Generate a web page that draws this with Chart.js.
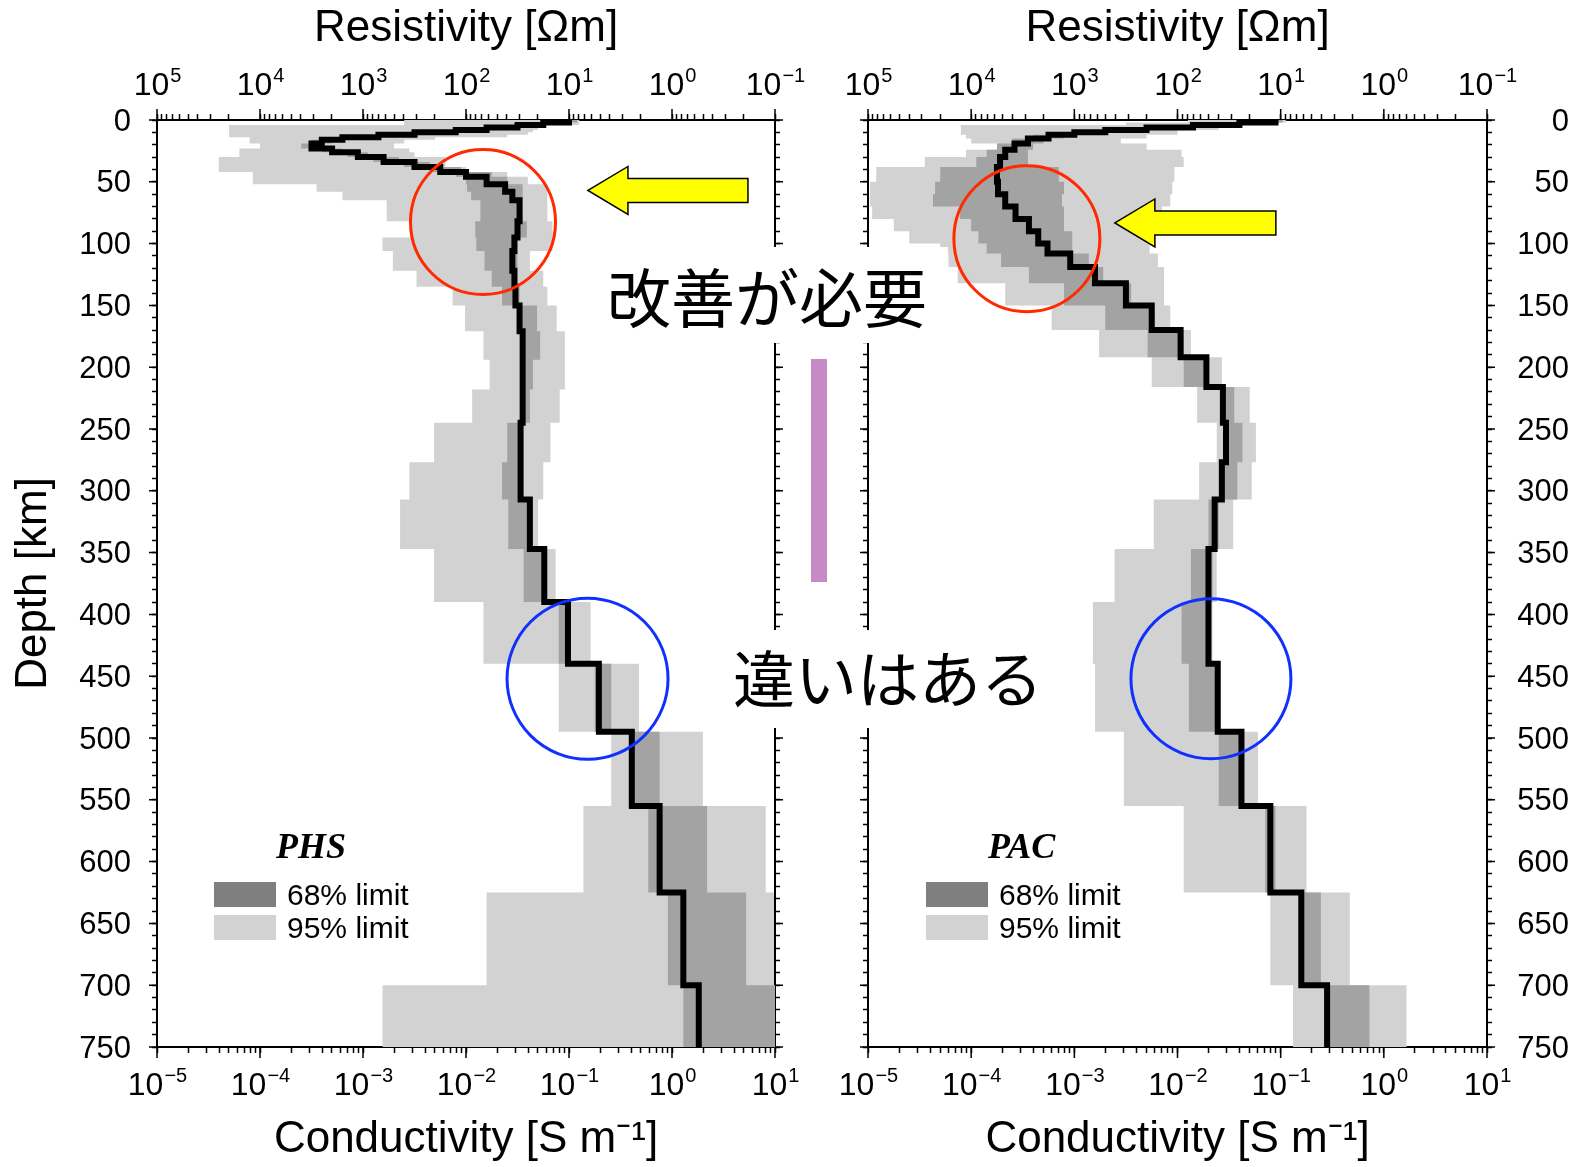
<!DOCTYPE html>
<html lang="ja">
<head>
<meta charset="utf-8">
<title>PHS / PAC conductivity profiles</title>
<script src="https://cdn.jsdelivr.net/npm/chart.js@4.4.1/dist/chart.umd.min.js"></script>
<style>
  html, body { margin: 0; padding: 0; background: #fff; }
  #page { position: relative; width: 1569px; height: 1167px; overflow: hidden; font-family: "Liberation Sans", Arial, sans-serif; color: #000; }
  canvas { position: absolute; left: 0; top: 0; }
  .box { position: absolute; background: #fff; }
  .jp { position: absolute; font-family: "Noto Sans CJK JP", sans-serif; line-height: 1; white-space: nowrap; }
  .key-name { position: absolute; font-family: "Liberation Serif", "Times New Roman", serif; font-weight: bold; font-style: italic; font-size: 36px; line-height: 36px; }
  .key-sw { position: absolute; width: 62px; height: 25px; }
  .key-txt { position: absolute; font-size: 30px; line-height: 30px; white-space: nowrap; }
</style>
</head>
<body>
<div id="page">
  <canvas id="phsChart" width="1569" height="1167"></canvas>
  <canvas id="pacChart" width="1569" height="1167"></canvas>

  <div class="box" style="left:811px;top:359px;width:16px;height:223px;background:#c78ac7"></div>

  <div class="box" style="left:598px;top:247px;width:350px;height:96px"></div>
  <div class="jp" style="left:607px;top:262px;font-size:64px">改善が必要</div>
  <div class="box" style="left:722px;top:630px;width:323px;height:98px"></div>
  <div class="jp" style="left:733px;top:645px;font-size:62px">違いはある</div>

  <div class="key-name" style="left:276px;top:828px">PHS</div>
  <div class="key-sw" style="left:214px;top:882px;background:#7f7f7f"></div>
  <div class="key-sw" style="left:214px;top:915px;background:#d2d2d2"></div>
  <div class="key-txt" style="left:287px;top:880px">68% limit</div>
  <div class="key-txt" style="left:287px;top:913px">95% limit</div>

  <div class="key-name" style="left:988px;top:828px">PAC</div>
  <div class="key-sw" style="left:926px;top:882px;background:#7f7f7f"></div>
  <div class="key-sw" style="left:926px;top:915px;background:#d2d2d2"></div>
  <div class="key-txt" style="left:999px;top:880px">68% limit</div>
  <div class="key-txt" style="left:999px;top:913px">95% limit</div>
</div>

<script>
// layer boundaries in km (top of each layer, last value = bottom of model)
// all profile values are log10 of conductivity [S/m], one per layer

// PHS (left panel)
const phsDepth = [0, 2, 4, 6, 8, 10, 12, 14, 16, 19, 23, 26, 30, 34, 38, 42, 46, 52, 58, 65,
  82, 95, 106, 122, 135, 150, 171, 194, 218, 245, 277, 307, 347, 390, 440, 495, 555, 625, 700, 750];
const phsMedian = [-1.00, -1.25, -1.50, -1.80, -2.10, -2.50, -2.85, -3.20, -3.40, -3.50,
  -3.30, -3.05, -2.80, -2.50, -2.25, -2.00, -1.80, -1.62, -1.55, -1.48,
  -1.50, -1.53, -1.55, -1.53, -1.52, -1.48, -1.45, -1.45, -1.45, -1.47,
  -1.47, -1.38, -1.24, -1.01, -0.71, -0.39, -0.12, 0.11, 0.26];
const phs68Lo = [-1.10, -1.35, -1.60, -1.90, -2.20, -2.60, -2.95, -3.30, -3.50, -3.60,
  -3.40, -3.15, -2.90, -2.60, -2.35, -2.10, -2.00, -1.99, -1.95, -1.86,
  -1.91, -1.90, -1.82, -1.75, -1.65, -1.50, -1.45, -1.47, -1.47, -1.60,
  -1.65, -1.59, -1.44, -1.10, -0.75, -0.42, -0.23, -0.04, 0.11];
const phs68Hi = [-0.92, -1.15, -1.40, -1.70, -2.00, -2.40, -2.75, -3.10, -3.30, -3.40,
  -3.20, -2.95, -2.65, -2.35, -2.05, -1.75, -1.60, -1.45, -1.45, -1.45,
  -1.41, -1.50, -1.50, -1.50, -1.48, -1.31, -1.28, -1.35, -1.38, -1.45,
  -1.47, -1.38, -1.22, -0.99, -0.59, -0.12, 0.34, 0.72, 1.00];
const phs95Lo = [-2.60, -2.60, -4.30, -4.30, -4.30, -4.30, -4.30, -4.10, -4.10, -4.00,
  -4.20, -4.20, -4.40, -4.40, -4.40, -4.07, -4.07, -3.45, -3.20, -2.77,
  -2.54, -2.81, -2.71, -2.48, -2.13, -2.01, -1.83, -1.77, -1.94, -2.31,
  -2.55, -2.64, -2.31, -1.83, -1.10, -0.59, -0.86, -1.80, -2.81];
const phs95Hi = [-0.90, -0.90, -1.30, -1.30, -1.35, -1.40, -1.60, -2.30, -2.60, -2.70,
  -2.55, -2.50, -2.20, -2.20, -2.00, -1.60, -1.40, -1.21, -1.21, -1.21,
  -1.16, -1.16, -1.38, -1.25, -1.21, -1.12, -1.04, -1.04, -1.09, -1.18,
  -1.25, -1.30, -1.13, -0.79, -0.32, 0.30, 0.91, 0.99, 1.00];

// PAC (right panel)
const pacDepth = [0, 2, 4, 6, 8, 10, 12, 15, 19, 24, 30, 38, 50, 60, 70, 80, 90, 100, 108, 119,
  132, 150, 170, 192, 216, 245, 277, 307, 347, 390, 440, 495, 555, 625, 700, 750];
const pacMedian = [-1.05, -1.40, -1.85, -2.30, -2.70, -3.00, -3.25, -3.45, -3.58, -3.67,
  -3.72, -3.75, -3.74, -3.67, -3.57, -3.44, -3.35, -3.26, -3.04, -2.80,
  -2.50, -2.25, -1.97, -1.72, -1.56, -1.53, -1.57, -1.64, -1.70, -1.70,
  -1.61, -1.38, -1.10, -0.80, -0.55];
const pac68Lo = [-1.15, -1.55, -2.00, -2.45, -2.85, -3.15, -3.40, -3.60, -3.75, -3.85,
  -3.95, -4.30, -4.35, -4.37, -4.11, -4.00, -3.93, -3.85, -3.71, -3.44,
  -3.10, -2.70, -2.29, -1.94, -1.58, -1.55, -1.58, -1.70, -1.87, -1.96,
  -1.89, -1.60, -1.15, -0.82, -0.57];
const pac68Hi = [-0.98, -1.30, -1.70, -2.15, -2.50, -2.85, -3.10, -3.30, -3.40, -3.45,
  -3.45, -3.15, -3.10, -3.12, -3.10, -3.10, -3.02, -3.02, -2.86, -2.72,
  -2.45, -2.22, -1.94, -1.70, -1.45, -1.37, -1.42, -1.60, -1.66, -1.70,
  -1.62, -1.40, -1.05, -0.61, -0.14];
const pac95Lo = [-1.90, -2.50, -4.10, -4.10, -4.10, -4.10, -4.05, -4.00, -3.75, -4.05,
  -4.45, -4.92, -4.98, -4.98, -4.96, -4.75, -4.60, -4.30, -4.22, -4.13,
  -3.67, -3.22, -2.76, -2.25, -1.81, -1.62, -1.79, -2.23, -2.61, -2.82,
  -2.80, -2.52, -1.94, -1.10, -0.88];
const pac95Hi = [-0.95, -1.10, -1.50, -1.60, -2.00, -2.00, -2.30, -2.55, -2.30, -1.96,
  -1.94, -2.03, -2.05, -2.07, -2.15, -2.17, -2.27, -2.27, -2.19, -2.13,
  -2.13, -2.07, -1.87, -1.57, -1.30, -1.24, -1.28, -1.46, -1.62, -1.66,
  -1.60, -1.22, -0.75, -0.33, 0.22];

// axis ticks
const condExponents = [-5, -4, -3, -2, -1, 0, 1];
const resExponents = [5, 4, 3, 2, 1, 0, -1];
const depthTicks = [];
for (let d = 0; d <= 750; d += 10) depthTicks.push(d);

const LIGHT = '#d2d2d2';
const DARK = '#a3a3a3';
const FONT = '"Liberation Sans", Arial, sans-serif';

Chart.defaults.font.family = FONT;
Chart.defaults.color = '#000';

// vertical step profile: each layer is a vertical segment from its top to its bottom
function stepEdge(depth, vals) {
  const pts = [];
  vals.forEach(function (v, i) {
    pts.push({ x: Math.pow(10, v), y: depth[i] });
    pts.push({ x: Math.pow(10, v), y: depth[i + 1] });
  });
  return pts;
}

function band(depth, lo, hi) {
  return stepEdge(depth, lo).concat(stepEdge(depth, hi).reverse());
}

function logTickValues(min, max) {
  const out = [];
  const e0 = Math.round(Math.log10(min)), e1 = Math.round(Math.log10(max));
  for (let e = e0; e < e1; e++) {
    for (let m = 1; m < 10; m++) out.push(m * Math.pow(10, e));
  }
  out.push(max);
  return out;
}

function logAxis(position, reverse, min, max, title, pad) {
  return {
    type: 'logarithmic', position: position, reverse: reverse, min: min, max: max,
    afterBuildTicks: function (s) { s.ticks = logTickValues(min, max).map(v => ({ value: v })); },
    afterFit: function (s) { s.height = 120; },
    ticks: { display: false },
    grid: { drawOnChartArea: false, tickLength: 6, tickColor: '#000', tickWidth: 1.5 },
    border: { color: '#000', width: 2 },
    title: { display: true, text: title, font: { size: 44 }, color: '#000', padding: pad }
  };
}

function depthAxis(position, showLabels, width) {
  return {
    type: 'linear', position: position, reverse: true, min: 0, max: 750,
    afterBuildTicks: function (s) { s.ticks = depthTicks.map(v => ({ value: v })); },
    afterFit: function (s) { s.width = width; },
    ticks: {
      display: showLabels, autoSkip: false, color: '#000', font: { size: 31 },
      padding: position === 'left' ? 21 : 16,
      labelOffset: 2,
      crossAlign: position === 'left' ? 'near' : 'far',
      callback: function (v) { return v % 50 === 0 ? String(v) : ''; }
    },
    grid: { drawOnChartArea: false, tickLength: 5, tickColor: '#000', tickWidth: 1.5 },
    border: { color: '#000', width: 2 }
  };
}

function drawPow(ctx, x, base, exp) {
  const sup = exp < 0 ? '\u2212' + Math.abs(exp) : String(exp);
  ctx.font = '32px ' + FONT;
  const w1 = ctx.measureText('10').width;
  ctx.font = '20px ' + FONT;
  const w2 = ctx.measureText(sup).width;
  const x0 = x - (w1 + w2) / 2;
  ctx.font = '32px ' + FONT;
  ctx.fillText('10', x0, base);
  ctx.font = '20px ' + FONT;
  ctx.fillText(sup, x0 + w1 + 1, base - 13);
}

// long ticks, power-of-ten labels, circles and arrows
function overlayPlugin(marks) {
  return {
    id: 'overlay',
    afterDraw: function (chart) {
      const ctx = chart.ctx, a = chart.chartArea;
      const sx = chart.scales.x, st = chart.scales.x2, sy = chart.scales.y;
      ctx.save();
      ctx.strokeStyle = '#000';
      ctx.lineWidth = 1.5;
      ctx.beginPath();
      condExponents.forEach(function (e) {
        const px = sx.getPixelForValue(Math.pow(10, e));
        ctx.moveTo(px, a.bottom); ctx.lineTo(px, a.bottom + 11);
      });
      resExponents.forEach(function (e) {
        const px = st.getPixelForValue(Math.pow(10, e));
        ctx.moveTo(px, a.top); ctx.lineTo(px, a.top - 11);
      });
      depthTicks.forEach(function (d) {
        if (d % 50 !== 0) return;
        const py = sy.getPixelForValue(d);
        ctx.moveTo(a.left, py); ctx.lineTo(a.left - 8, py);
        ctx.moveTo(a.right, py); ctx.lineTo(a.right + 8, py);
      });
      ctx.stroke();

      ctx.fillStyle = '#000';
      ctx.textAlign = 'left';
      ctx.textBaseline = 'alphabetic';
      condExponents.forEach(function (e) {
        drawPow(ctx, sx.getPixelForValue(Math.pow(10, e)), a.bottom + 48, e);
      });
      resExponents.forEach(function (e) {
        drawPow(ctx, st.getPixelForValue(Math.pow(10, e)), a.top - 25, e);
      });

      marks.circles.forEach(function (c) {
        ctx.beginPath();
        ctx.arc(sx.getPixelForValue(Math.pow(10, c.lx)), sy.getPixelForValue(c.d), c.r, 0, 2 * Math.PI);
        ctx.strokeStyle = c.color;
        ctx.lineWidth = 3;
        ctx.stroke();
      });

      marks.arrows.forEach(function (ar) {
        const x = sx.getPixelForValue(Math.pow(10, ar.lx)), y = sy.getPixelForValue(ar.d);
        ctx.beginPath();
        ctx.moveTo(x, y);
        ctx.lineTo(x + 40, y - 24);
        ctx.lineTo(x + 40, y - 12);
        ctx.lineTo(x + ar.len, y - 12);
        ctx.lineTo(x + ar.len, y + 12);
        ctx.lineTo(x + 40, y + 12);
        ctx.lineTo(x + 40, y + 24);
        ctx.closePath();
        ctx.fillStyle = '#ffff00';
        ctx.fill();
        ctx.strokeStyle = '#000';
        ctx.lineWidth = 1.5;
        ctx.stroke();
      });
      ctx.restore();
    }
  };
}

function makePanel(id, p) {
  return new Chart(document.getElementById(id), {
    type: 'scatter',
    data: {
      datasets: [
        { data: stepEdge(p.depth, p.median), showLine: true, borderColor: '#000', borderWidth: 6,
          borderJoinStyle: 'miter', pointRadius: 0, fill: false, order: 0 },
        { data: band(p.depth, p.lo68, p.hi68), showLine: true, borderWidth: 0, pointRadius: 0,
          backgroundColor: DARK, fill: 'shape', order: 1 },
        { data: band(p.depth, p.lo95, p.hi95), showLine: true, borderWidth: 0, pointRadius: 0,
          backgroundColor: LIGHT, fill: 'shape', order: 2 }
      ]
    },
    options: {
      responsive: false,
      animation: false,
      devicePixelRatio: 1,
      events: [],
      layout: { padding: p.padding },
      plugins: { legend: { display: false }, tooltip: { enabled: false } },
      scales: {
        x: logAxis('bottom', false, 1e-5, 10, 'Conductivity [S m\u207B\u00B9]', { top: 0, bottom: 1 }),
        x2: logAxis('top', true, 0.1, 1e5, 'Resistivity [\u03A9m]', { top: 2, bottom: 0 }),
        y: p.yLeft,
        y2: p.yRight
      }
    },
    plugins: [overlayPlugin(p.marks)]
  });
}

const phsLeft = depthAxis('left', true, 157);
phsLeft.title = { display: true, text: 'Depth [km]', font: { size: 44 }, color: '#000', padding: { top: 7, bottom: 0 } };

makePanel('phsChart', {
  depth: phsDepth, median: phsMedian, lo68: phs68Lo, hi68: phs68Hi, lo95: phs95Lo, hi95: phs95Hi,
  padding: { left: 0, right: 769, top: 0, bottom: 0 },
  yLeft: phsLeft,
  yRight: depthAxis('right', false, 25),
  marks: {
    circles: [
      { lx: -1.835, d: 82.5, r: 72.5, color: '#ff2a00' },
      { lx: -0.82, d: 452, r: 80.5, color: '#1030ff' }
    ],
    arrows: [{ lx: -0.816, d: 57, len: 160 }]
  }
});

makePanel('pacChart', {
  depth: pacDepth, median: pacMedian, lo68: pac68Lo, hi68: pac68Hi, lo95: pac95Lo, hi95: pac95Hi,
  padding: { left: 800, right: 0, top: 0, bottom: 0 },
  yLeft: depthAxis('left', false, 68),
  yRight: depthAxis('right', true, 82),
  marks: {
    circles: [
      { lx: -3.46, d: 96, r: 73, color: '#ff2a00' },
      { lx: -1.676, d: 452, r: 80, color: '#1030ff' }
    ],
    arrows: [{ lx: -2.607, d: 83.3, len: 161 }]
  }
});
</script>
</body>
</html>
